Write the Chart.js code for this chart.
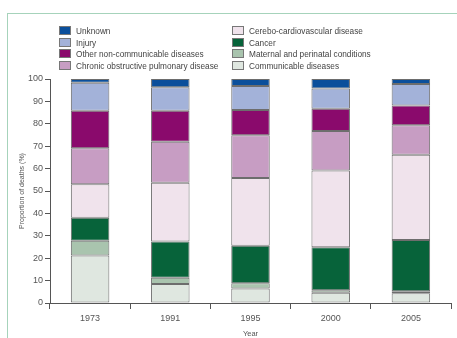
<!DOCTYPE html>
<html>
<head>
<meta charset="utf-8">
<script src="https://cdn.jsdelivr.net/npm/chart.js@4"></script>
<style>
  html, body { margin: 0; padding: 0; background: #fff; }
  #wrap { position: relative; width: 457px; height: 338px; overflow: hidden; }
  #frame { position: absolute; left: 7px; top: 13px; width: 470px; height: 360px; border: 1.5px solid #a6d3bb; box-sizing: border-box; }
  #chart { position: absolute; left: 0; top: 0; }
  #legend { position: absolute; left: 59px; top: 25px; width: 400px; height: 50px;
            font-family: "Liberation Sans", sans-serif; font-size: 9.5px; color: #444; }
  .item { position: absolute; height: 11px; line-height: 11px; white-space: nowrap; }
  .box { position: absolute; left: 0; top: 1px; width: 10px; height: 7px; border: 1px solid #777; }
  .lab { position: absolute; left: 17px; top: 0; transform: scaleX(0.87); transform-origin: left center; }
</style>
</head>
<body>
<div id="wrap">
  <div id="frame"></div>
  <canvas id="chart" width="457" height="338"></canvas>
  <div id="legend"></div>
</div>
<script>
// Data (share of deaths, %)
const years = ['1973', '1991', '1995', '2000', '2005'];

const communicable = [21.2, 8.5, 6.5, 4.6, 4.3];
const maternal     = [6.6, 2.8, 2.3, 1.1, 0.9];
const cancer       = [10.3, 16.1, 16.8, 19.2, 22.9];
const cerebro      = [14.9, 26.3, 30.2, 34.2, 38.1];
const copd         = [16.1, 18.3, 19.1, 17.7, 13.1];
const otherNcd     = [16.7, 13.8, 11.3, 9.9, 8.9];
const injury       = [12.5, 10.5, 10.7, 9.1, 9.6];
const unknown      = [1.7, 3.7, 3.1, 4.2, 2.2];

const yTicks = [0, 10, 20, 30, 40, 50, 60, 70, 80, 90, 100];

// bottom to top
const series = [
    { label: 'Communicable diseases', data: communicable, color: '#dfe7e0' },
    { label: 'Maternal and perinatal conditions', data: maternal, color: '#a9c4ae' },
    { label: 'Cancer', data: cancer, color: '#07633a' },
    { label: 'Cerebo-cardiovascular disease', data: cerebro, color: '#f0e3ec' },
    { label: 'Chronic obstructive pulmonary disease', data: copd, color: '#c79dc3' },
    { label: 'Other non-communicable diseases', data: otherNcd, color: '#8a0a6c' },
    { label: 'Injury', data: injury, color: '#a3b2d9' },
    { label: 'Unknown', data: unknown, color: '#0b4f9b' }
];

const fam = '"Liberation Sans", sans-serif';

// legend: two columns, top of stack first
const legend = document.getElementById('legend');
const ordered = series.slice().reverse();
ordered.forEach((s, i) => {
    const col = Math.floor(i / 4);
    const row = i % 4;
    const item = document.createElement('div');
    item.className = 'item';
    item.style.left = (col * 173) + 'px';
    item.style.top = (row * 11.5) + 'px';
    item.innerHTML = '<span class="box" style="background:' + s.color + '"></span><span class="lab"></span>';
    item.querySelector('.lab').textContent = s.label;
    legend.appendChild(item);
});

const ctx = document.getElementById('chart').getContext('2d');
new Chart(ctx, {
    type: 'bar',
    data: {
        labels: years,
        datasets: series.map(s => ({
            label: s.label,
            data: s.data,
            backgroundColor: s.color,
            borderColor: '#6d6d6d',
            borderWidth: 1,
            borderSkipped: false,
            barPercentage: 0.48,
            categoryPercentage: 1
        }))
    },
    options: {
        responsive: false,
        animation: false,
        layout: { padding: { top: 79, right: 6, left: 0, bottom: 0 } },
        plugins: { legend: { display: false }, tooltip: { enabled: false } },
        scales: {
            x: {
                stacked: true,
                offset: true,
                border: { color: '#555', width: 1 },
                grid: { offset: true, drawOnChartArea: false, tickLength: 6, color: '#555' },
                ticks: { color: '#555', font: { family: fam, size: 9 }, padding: 4 },
                title: { display: true, text: 'Year', color: '#555', font: { family: fam, size: 7.5 }, padding: { top: 3, bottom: 0 } },
                afterFit: function (scale) { scale.height = 35; }
            },
            y: {
                stacked: true,
                min: 0,
                max: 100,
                afterBuildTicks: function (scale) { scale.ticks = yTicks.map(v => ({ value: v })); },
                border: { color: '#555', width: 1 },
                grid: { drawOnChartArea: false, tickLength: 5, color: '#555' },
                ticks: { color: '#555', font: { family: fam, size: 9 }, padding: 2 },
                title: { display: true, text: 'Proportion of deaths (%)', color: '#555', font: { family: fam, size: 7 }, padding: { top: 18, bottom: 0 } },
                afterFit: function (scale) { scale.width = 50; }
            }
        }
    }
});
</script>
</body>
</html>
